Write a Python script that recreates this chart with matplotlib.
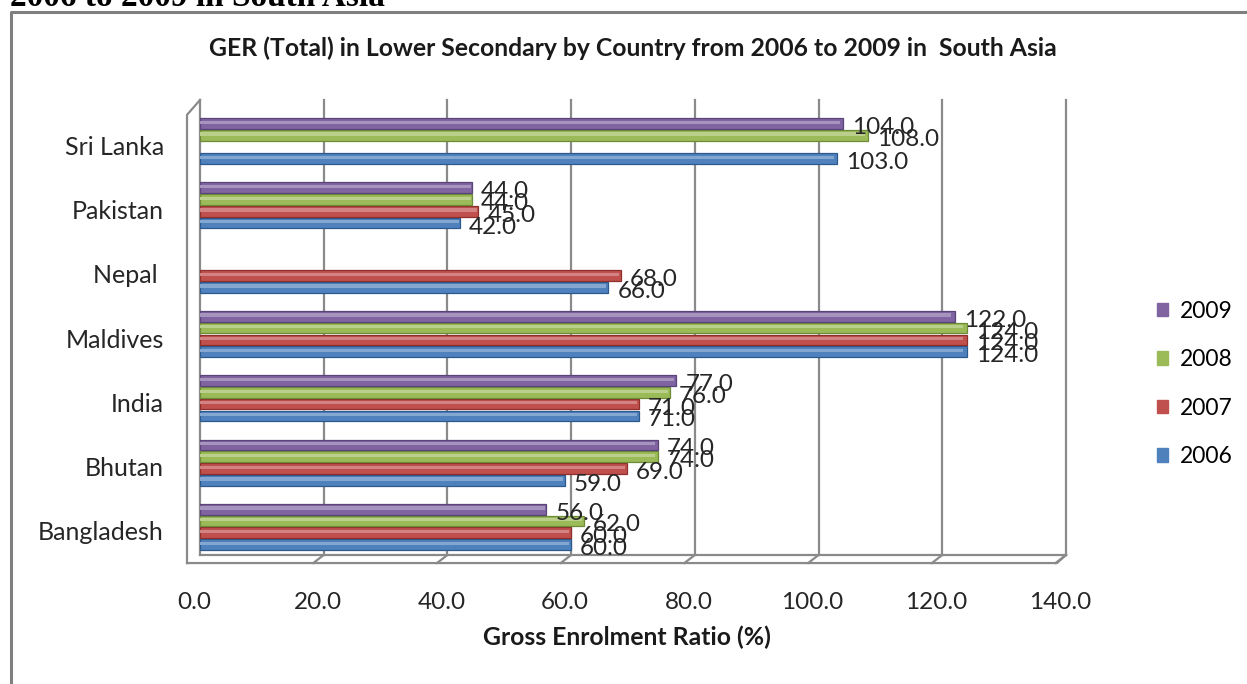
import matplotlib
matplotlib.use("Agg")
import matplotlib.pyplot as plt
from matplotlib.lines import Line2D
from matplotlib.patches import Patch
import matplotlib.colors as mcolors
import matplotlib.transforms as mtransforms
import numpy as np

# data (bottom to top)
countries = ["Bangladesh", "Bhutan", "India", "Maldives", "Nepal ", "Pakistan", "Sri Lanka"]
years = ["2006", "2007", "2008", "2009"]
ger_2006 = [60, 59, 71, 124, 66, 42, 103]
ger_2007 = [60, 69, 71, 124, 68, 45, None]
ger_2008 = [62, 74, 76, 124, None, 44, 108]
ger_2009 = [56, 74, 77, 122, None, 44, 104]
xticks = [0, 20, 40, 60, 80, 100, 120, 140]

series = [ger_2006, ger_2007, ger_2008, ger_2009]
colors = ['#4F81BD', '#C0504D', '#9BBB59', '#8064A2']
edges = ['#2C5A8F', '#8E2F2C', '#6E8B38', '#5A4478']


def lighten(c, f):
    r, g, b = mcolors.to_rgb(c)
    return (r + (1 - r) * f, g + (1 - g) * f, b + (1 - b) * f)


plt.rcParams['font.family'] = ['Lato', 'DejaVu Sans']

W, H = 1247, 684
fig = plt.figure(figsize=(W / 100, H / 100), dpi=100)
# plot area in pixels: x 200..1066, y 109..559
ax = fig.add_axes([200 / W, 1 - 559 / H, 866 / W, 450 / H])

step = 0.183
bh = 0.165
ypos = np.arange(len(countries))
for i, vals in enumerate(series):
    off = (i - 1.5) * step
    for j, v in enumerate(vals):
        if v is None:
            continue
        ax.barh(ypos[j] + off, v, height=bh, color=colors[i], edgecolor=edges[i], linewidth=0.9, zorder=3)
        # highlight strip to suggest the rounded 3D bar
        ax.barh(ypos[j] + off + bh * 0.12, v * 0.995, height=bh * 0.3, color=lighten(colors[i], 0.3),
                linewidth=0, zorder=3.5)
        ax.annotate('%.1f' % v, (v, ypos[j] + off), xytext=(9, -4), textcoords='offset pixels',
                    ha='left', va='center', fontsize=17.5, color='#262626', zorder=4)

ax.set_xlim(0, 140)
ax.set_ylim(-0.5, len(countries) - 0.5)
for s in ax.spines.values():
    s.set_visible(False)

# back wall grid lines, walls and floor
tr = ax.get_xaxis_transform()
gcol = '#8a8a8a'
for t in xticks[1:]:
    ax.plot([t, t], [0.009, 1.02], color=gcol, lw=1.6, transform=tr, clip_on=False, zorder=1)
    ax.plot([t, t - 0.012 * 140], [0.009, -0.009], color=gcol, lw=1.6, transform=tr, clip_on=False, zorder=1)
ax.plot([0, 1], [0.009, 0.009], color=gcol, lw=1.6, transform=ax.transAxes, clip_on=False)
ax.plot([-0.015, 0.9896, 1.0], [-0.009, -0.009, 0.009], color=gcol, lw=1.6, transform=ax.transAxes, clip_on=False)
ax.plot([0, 0], [0.009, 1.02], color=gcol, lw=1.6, transform=ax.transAxes, clip_on=False)
ax.plot([-0.015, -0.015, 0], [-0.009, 0.987, 1.02], color=gcol, lw=1.6, transform=ax.transAxes, clip_on=False)

ax.set_xticks(xticks)
ax.set_xticklabels(['%.1f' % t for t in xticks], fontsize=17.5, color='#262626')
ax.tick_params(axis='x', length=0, pad=24)
shift = mtransforms.ScaledTranslation(-6 / 100, 0, fig.dpi_scale_trans)
for lbl in ax.get_xticklabels():
    lbl.set_transform(lbl.get_transform() + shift)

ax.set_yticks(ypos)
ax.set_yticklabels(countries, fontsize=18, color='#262626')
ax.tick_params(axis='y', length=0, pad=26)
yshift = mtransforms.ScaledTranslation(0, -4 / 100, fig.dpi_scale_trans)
for lbl in ax.get_yticklabels():
    lbl.set_transform(lbl.get_transform() + yshift)

fig.text(633 / W, 1 - 48 / H, 'GER (Total) in Lower Secondary by Country from 2006 to 2009 in  South Asia',
         ha='center', va='center', fontsize=17.8, fontweight='bold', color='#1a1a1a')
fig.text(627 / W, 1 - 637 / H, 'Gross Enrolment Ratio (%)', ha='center', va='center',
         fontsize=17.8, fontweight='bold', color='#1a1a1a')

handles = [Patch(facecolor=colors[i], edgecolor=colors[i]) for i in range(3, -1, -1)]
fig.legend(handles, [years[i] for i in range(3, -1, -1)], loc='upper left',
           bbox_to_anchor=(1136 / W, 1 - 280 / H), frameon=False, fontsize=16.5,
           handlelength=0.5, handleheight=0.5, handletextpad=0.5, labelspacing=1.2)

# outer frame and cut-off heading
fig.add_artist(Line2D([11 / W, 11 / W, 1], [0, 1 - 12 / H, 1 - 12 / H], color='#7f7f7f', lw=2.2,
                      transform=fig.transFigure))
fig.text(10 / W, 1 - 6 / H, '2006 to 2009 in South Asia', ha='left', va='baseline',
         fontsize=24, fontweight='bold', family='Liberation Serif')

fig.savefig('out.png', dpi=100)
